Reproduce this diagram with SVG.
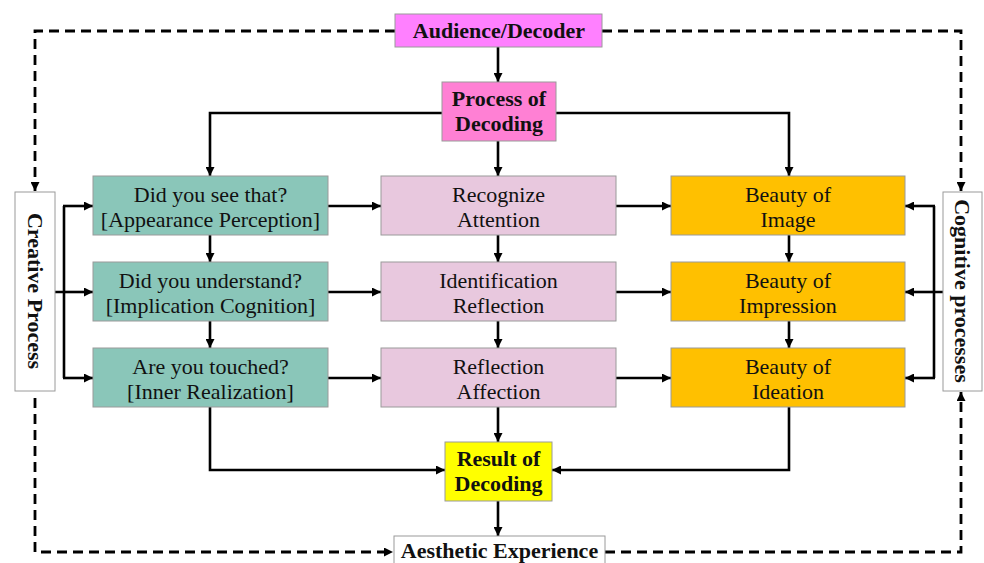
<svg xmlns="http://www.w3.org/2000/svg" width="984" height="563" viewBox="0 0 984 563">
  <style>
    .box { stroke: #9a9a9a; stroke-width: 1; }
    .lbl { font-family: "Liberation Serif", "Times New Roman", serif; font-size: 22px; fill: #111; text-anchor: middle; }
    .b { font-weight: bold; }
    .wire { fill: none; stroke: #000; stroke-width: 2.6; }
    .dash { fill: none; stroke: #000; stroke-width: 2.8; stroke-dasharray: 10 6; }
    .arr { marker-end: url(#head); }
  </style>
  <defs>
    <marker id="head" viewBox="0 0 10 10" refX="10" refY="5" markerWidth="9" markerHeight="9" markerUnits="userSpaceOnUse" orient="auto">
      <path d="M0,0 L10,5 L0,10 z" fill="#000"/>
    </marker>
  </defs>
  <rect width="984" height="563" fill="#fff"/>

  <!-- connectors -->
  <g id="connectors">
    <!-- dashed feedback loop -->
    <path class="dash arr" d="M395,31 H35 V191"/>
    <path class="dash arr" d="M602,31 H961 V191"/>
    <path class="dash arr" d="M35,398 V552 H393"/>
    <path class="dash arr" d="M605,552 H961 V392"/>

    <!-- from the top -->
    <path class="wire arr" d="M498,47 V82"/>
    <path class="wire arr" d="M442,113 H210 V176"/>
    <path class="wire arr" d="M556,113 H789 V176"/>
    <path class="wire arr" d="M498,141 V176"/>

    <!-- down each column -->
    <path class="wire arr" d="M210,235 V262"/>
    <path class="wire arr" d="M210,321 V348"/>
    <path class="wire arr" d="M498,235 V262"/>
    <path class="wire arr" d="M498,321 V348"/>
    <path class="wire arr" d="M789,235 V262"/>
    <path class="wire arr" d="M789,321 V348"/>

    <!-- across each row -->
    <path class="wire arr" d="M328,206 H381"/>
    <path class="wire arr" d="M328,292 H381"/>
    <path class="wire arr" d="M328,378 H381"/>
    <path class="wire arr" d="M616,206 H671"/>
    <path class="wire arr" d="M616,292 H671"/>
    <path class="wire arr" d="M616,378 H671"/>

    <!-- left bracket -->
    <path class="wire" d="M55,292 H64 M64,206 V378"/>
    <path class="wire arr" d="M63,206 H93"/>
    <path class="wire arr" d="M64,292 H93"/>
    <path class="wire arr" d="M63,378 H93"/>

    <!-- right bracket -->
    <path class="wire" d="M943,292 H934 M934,206 V378"/>
    <path class="wire arr" d="M935,206 H905"/>
    <path class="wire arr" d="M934,292 H905"/>
    <path class="wire arr" d="M935,378 H905"/>

    <!-- into the result -->
    <path class="wire arr" d="M210,407 V470 H445"/>
    <path class="wire arr" d="M789,407 V470 H552"/>
    <path class="wire arr" d="M498,407 V442"/>
    <path class="wire arr" d="M498,501 V536"/>
  </g>

  <g id="audience">
    <rect class="box" x="395" y="14" width="207" height="33" fill="#ff80ff"/>
    <text class="lbl b" x="499" y="38">Audience/Decoder</text>
  </g>

  <g id="process-decoding">
    <rect class="box" x="442" y="82" width="114" height="59" fill="#ff80d4"/>
    <text class="lbl b" x="499" y="106">Process of</text>
    <text class="lbl b" x="499" y="131">Decoding</text>
  </g>

  <g id="creative-process">
    <rect class="box" x="15" y="192" width="40" height="199" fill="#fff"/>
    <text class="lbl b" transform="translate(35,291) rotate(90)" x="0" y="7.5">Creative Process</text>
  </g>

  <g id="cognitive-processes">
    <rect class="box" x="943" y="192" width="39" height="199" fill="#fff"/>
    <text class="lbl b" transform="translate(962,291) rotate(90)" x="0" y="7.5">Cognitive processes</text>
  </g>

  <g id="see">
    <rect class="box" x="93" y="176" width="235" height="59" fill="#8ac6b9"/>
    <text class="lbl" x="210.5" y="201.5">Did you see that?</text>
    <text class="lbl" x="210.5" y="226.5">[Appearance Perception]</text>
  </g>
  <g id="understand">
    <rect class="box" x="93" y="262" width="235" height="59" fill="#8ac6b9"/>
    <text class="lbl" x="210.5" y="287.5">Did you understand?</text>
    <text class="lbl" x="210.5" y="312.5">[Implication Cognition]</text>
  </g>
  <g id="touched">
    <rect class="box" x="93" y="348" width="235" height="59" fill="#8ac6b9"/>
    <text class="lbl" x="210.5" y="373.5">Are you touched?</text>
    <text class="lbl" x="210.5" y="398.5">[Inner Realization]</text>
  </g>

  <g id="recognize">
    <rect class="box" x="381" y="176" width="235" height="59" fill="#e8c8de"/>
    <text class="lbl" x="498.5" y="201.5">Recognize</text>
    <text class="lbl" x="498.5" y="226.5">Attention</text>
  </g>
  <g id="identification">
    <rect class="box" x="381" y="262" width="235" height="59" fill="#e8c8de"/>
    <text class="lbl" x="498.5" y="287.5">Identification</text>
    <text class="lbl" x="498.5" y="312.5">Reflection</text>
  </g>
  <g id="reflection">
    <rect class="box" x="381" y="348" width="235" height="59" fill="#e8c8de"/>
    <text class="lbl" x="498.5" y="373.5">Reflection</text>
    <text class="lbl" x="498.5" y="398.5">Affection</text>
  </g>

  <g id="beauty-image">
    <rect class="box" x="671" y="176" width="234" height="59" fill="#ffc000"/>
    <text class="lbl" x="788" y="201.5">Beauty of</text>
    <text class="lbl" x="788" y="226.5">Image</text>
  </g>
  <g id="beauty-impression">
    <rect class="box" x="671" y="262" width="234" height="59" fill="#ffc000"/>
    <text class="lbl" x="788" y="287.5">Beauty of</text>
    <text class="lbl" x="788" y="312.5">Impression</text>
  </g>
  <g id="beauty-ideation">
    <rect class="box" x="671" y="348" width="234" height="59" fill="#ffc000"/>
    <text class="lbl" x="788" y="373.5">Beauty of</text>
    <text class="lbl" x="788" y="398.5">Ideation</text>
  </g>

  <g id="result">
    <rect class="box" x="445" y="442" width="107" height="59" fill="#ffff00"/>
    <text class="lbl b" x="498.5" y="466">Result of</text>
    <text class="lbl b" x="498.5" y="491">Decoding</text>
  </g>

  <g id="aesthetic">
    <rect class="box" x="394" y="536" width="211" height="32" fill="#fff"/>
    <text class="lbl b" x="499.5" y="557.5">Aesthetic Experience</text>
  </g>
</svg>
